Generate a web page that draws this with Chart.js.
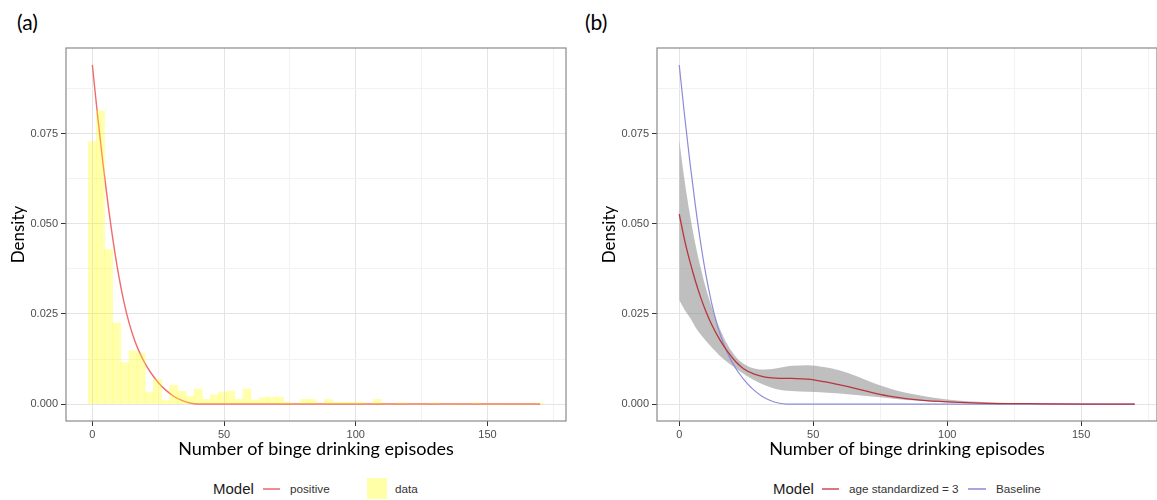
<!DOCTYPE html>
<html>
<head>
<meta charset="utf-8">
<script src="https://cdn.jsdelivr.net/npm/chart.js@4"></script>
<style>
  body { margin: 0; width: 1157px; height: 500px; background: #fff; position: relative; overflow: hidden;
         font-family: "Liberation Sans", Arial, sans-serif; }
  .box { position: absolute; top: 0; height: 470px; }
  .txt { position: absolute; white-space: nowrap; line-height: 20px; }
  .key { position: absolute; height: 2px; }
  .panel { position: absolute; font-family: Lato, sans-serif; font-size: 21px; color: #000; }
</style>
</head>
<body>
<div class="panel" style="left:17px;top:9px">(a)</div>
<div class="panel" style="left:585px;top:9px">(b)</div>

<div class="box" style="left:0;width:580px"><canvas id="chartA"></canvas></div>
<div class="box" style="left:580px;width:577px"><canvas id="chartB"></canvas></div>

<!-- legends -->
<div class="txt" style="left:213px;top:479px;font-size:15px;color:#1a1a1a">Model</div>
<div class="key" style="left:263px;top:488px;width:17px;background:#ee8d8d"></div>
<div class="txt" style="left:290px;top:479px;font-size:11.7px;color:#333">positive</div>
<div class="key" style="left:367px;top:478px;width:20px;height:21px;background:#ffffa8"></div>
<div class="txt" style="left:395px;top:479px;font-size:11.7px;color:#333">data</div>

<div class="txt" style="left:773px;top:479px;font-size:15px;color:#1a1a1a">Model</div>
<div class="key" style="left:822px;top:488px;width:17px;background:#d9787e"></div>
<div class="txt" style="left:849px;top:479px;font-size:11.7px;color:#333">age standardized = 3</div>
<div class="key" style="left:968px;top:488px;width:18px;background:#a8a6de"></div>
<div class="txt" style="left:996px;top:479px;font-size:11.7px;color:#333">Baseline</div>

<script>
// axis ticks (minor ones are unlabelled gridlines)
const xTicks = [0, 25, 50, 75, 100, 125, 150, 175];
const xMajor = [0, 50, 100, 150];
const yTicks = [0, 0.0125, 0.025, 0.0375, 0.05, 0.0625, 0.075, 0.0875];
const yMajor = [0, 0.025, 0.05, 0.075];

// (a) histogram of observed data
const binCenters = [0, 3.09, 6.18, 9.27, 12.36, 15.45, 18.54, 21.63, 24.72, 27.81, 30.9, 33.99, 37.08, 40.17,
  43.26, 46.35, 49.44, 52.53, 55.62, 58.71, 61.8, 64.89, 67.98, 71.07, 74.16, 77.25, 80.34, 83.43, 86.52,
  89.61, 92.7, 95.79, 98.88, 101.97, 105.06, 108.15, 111.24, 114.33, 117.42, 120.51, 123.6, 126.69, 129.78,
  132.87, 135.96, 139.05, 142.14, 145.23, 148.32, 151.41, 154.5, 157.59, 160.68, 163.77, 166.86, 169.95];
const binDensity = [0.0728, 0.0814, 0.0429, 0.0225, 0.0115, 0.0148, 0.0140, 0.0032, 0.0068, 0.0010, 0.0052,
  0.0036, 0.0022, 0.0042, 0.0013, 0.0026, 0.0033, 0.0036, 0.0013, 0.0042, 0.0011, 0.0018, 0.0019, 0.0019,
  0.0005, 0, 0.0013, 0.0013, 0, 0.0013, 0.0005, 0.0005, 0.0005, 0.0005, 0, 0.0013, 0, 0, 0.0004, 0, 0, 0,
  0.0003, 0, 0, 0, 0, 0.0003, 0, 0, 0, 0, 0, 0, 0, 0.0003];

// fitted "positive" model (also the baseline in panel b)
const modelX = [0, 2, 4, 6, 8, 10, 12, 14, 16, 18, 20, 22, 25, 28, 31, 34, 37, 40, 60, 100, 170];
const modelY = [0.0941, 0.0800, 0.0670, 0.0552, 0.0447, 0.0357, 0.0283, 0.0224, 0.0178, 0.0142, 0.0113,
  0.0089, 0.0060, 0.0038, 0.0021, 0.0010, 0.0003, 0, 0, 0, 0];

// (b) age standardized = 3, with confidence band
const ageX = [0, 2, 4, 6, 8, 10, 12, 15, 18, 21, 24, 28, 32, 36, 42, 48, 54, 60, 66, 72, 80, 90, 100, 115, 130, 150, 170];
const ageY = [0.0527, 0.0455, 0.0395, 0.0342, 0.0296, 0.0256, 0.0222, 0.0180, 0.0146, 0.0118, 0.0098, 0.0083,
  0.0075, 0.0072, 0.0071, 0.0069, 0.0062, 0.0053, 0.0043, 0.0032, 0.0020, 0.0011, 0.0006, 0.0002, 0.0001, 0, 0];
const ageUpper = [0.0733, 0.0620, 0.0525, 0.0445, 0.0378, 0.0320, 0.0272, 0.0212, 0.0165, 0.0132, 0.0112,
  0.0099, 0.0096, 0.0099, 0.0106, 0.0108, 0.0103, 0.0093, 0.0078, 0.0060, 0.0040, 0.0024, 0.0013, 0.0005,
  0.0002, 0.0001, 0];
const ageLower = [0.0289, 0.0262, 0.0240, 0.0214, 0.0193, 0.0175, 0.0158, 0.0135, 0.0116, 0.0100, 0.0084,
  0.0066, 0.0052, 0.0042, 0.0036, 0.0034, 0.0032, 0.0029, 0.0025, 0.0021, 0.0015, 0.0009, 0.0005, 0.0001,
  0, 0, 0];

const xTitle = 'Number of binge drinking episodes';
const yTitle = 'Density';

function pts(xs, ys) {
  return xs.map((x, i) => ({ x: x, y: ys[i] }));
}

const isMajor = (list, v) => list.some(m => Math.abs(m - v) < 1e-9);

// panel border drawn on top, like ggplot's theme_bw
const frame = {
  id: 'frame',
  afterDatasetsDraw(chart) {
    const { ctx, chartArea: a } = chart;
    ctx.save();
    ctx.strokeStyle = '#8a8a8a';
    ctx.lineWidth = 1.2;
    ctx.strokeRect(a.left, a.top, a.right - a.left, a.bottom - a.top);
    ctx.restore();
  }
};

function scales(xMin, xMax, yWidth, yTitlePad) {
  const tickFont = { family: '"Liberation Sans", Arial, sans-serif', size: 11 };
  return {
    x: {
      type: 'linear', min: xMin, max: xMax, offset: false,
      afterBuildTicks: s => { s.ticks = xTicks.map(v => ({ value: v })); },
      afterFit: s => { s.height = 49; },
      border: { display: false },
      grid: {
        offset: false,
        color: c => isMajor(xMajor, c.tick.value) ? '#e4e4e4' : '#f2f2f2',
        tickColor: c => isMajor(xMajor, c.tick.value) ? '#333' : 'rgba(0,0,0,0)',
        tickLength: 5
      },
      ticks: {
        autoSkip: false, maxRotation: 0, padding: 2, color: '#4d4d4d', font: tickFont,
        callback: v => isMajor(xMajor, v) ? String(v) : ''
      },
      title: {
        display: true, text: xTitle, color: '#000',
        font: { family: 'Lato, sans-serif', size: 18 }, padding: { top: 0, bottom: 10 }
      }
    },
    y: {
      type: 'linear', min: -0.0047, max: 0.0988,
      afterBuildTicks: s => { s.ticks = yTicks.map(v => ({ value: v })); },
      afterFit: s => { s.width = yWidth; },
      border: { display: false },
      grid: {
        color: c => isMajor(yMajor, c.tick.value) ? '#e4e4e4' : '#f2f2f2',
        tickColor: c => isMajor(yMajor, c.tick.value) ? '#333' : 'rgba(0,0,0,0)',
        tickLength: 5
      },
      ticks: {
        padding: 3, color: '#4d4d4d', font: tickFont,
        callback: v => isMajor(yMajor, v) ? v.toFixed(3) : ''
      },
      title: {
        display: true, text: yTitle, color: '#000',
        font: { family: 'Lato, sans-serif', size: 17 }, padding: { top: yTitlePad, bottom: 0 }
      }
    }
  };
}

const common = {
  responsive: true,
  maintainAspectRatio: false,
  animation: false,
  events: [],
  plugins: { legend: { display: false }, tooltip: { enabled: false } }
};

new Chart(document.getElementById('chartA'), {
  type: 'bar',
  data: {
    datasets: [
      {
        type: 'bar',
        data: pts(binCenters, binDensity),
        backgroundColor: 'rgba(255,255,0,0.32)',
        borderWidth: 0,
        barPercentage: 1,
        categoryPercentage: 1,
        order: 0
      },
      {
        type: 'line',
        data: pts(modelX, modelY),
        borderColor: '#f26b6b',
        borderWidth: 1.4,
        pointRadius: 0,
        cubicInterpolationMode: 'monotone',
        fill: false,
        order: 1
      }
    ]
  },
  options: {
    ...common,
    layout: { padding: { top: 48, left: 0, right: 14, bottom: 0 } },
    scales: scales(-10, 179.8, 66, 8)
  },
  plugins: [frame]
});

new Chart(document.getElementById('chartB'), {
  type: 'line',
  data: {
    datasets: [
      {
        data: pts(ageX, ageY),
        borderColor: '#b8353f',
        borderWidth: 1.3,
        pointRadius: 0,
        cubicInterpolationMode: 'monotone',
        fill: false,
        order: 0
      },
      {
        data: pts(modelX, modelY),
        borderColor: '#8d8bd6',
        borderWidth: 1.2,
        pointRadius: 0,
        cubicInterpolationMode: 'monotone',
        fill: false,
        order: 1
      },
      {
        data: pts(ageX, ageUpper),
        borderWidth: 0,
        borderColor: 'rgba(0,0,0,0)',
        backgroundColor: 'rgba(128,128,128,0.5)',
        pointRadius: 0,
        cubicInterpolationMode: 'monotone',
        fill: '+1',
        order: 2
      },
      {
        data: pts(ageX, ageLower),
        borderWidth: 0,
        borderColor: 'rgba(0,0,0,0)',
        pointRadius: 0,
        cubicInterpolationMode: 'monotone',
        fill: false,
        order: 3
      }
    ]
  },
  options: {
    ...common,
    layout: { padding: { top: 48, left: 0, right: 0, bottom: 0 } },
    scales: scales(-8.3, 178.3, 77, 19)
  },
  plugins: [frame]
});
</script>
</body>
</html>
